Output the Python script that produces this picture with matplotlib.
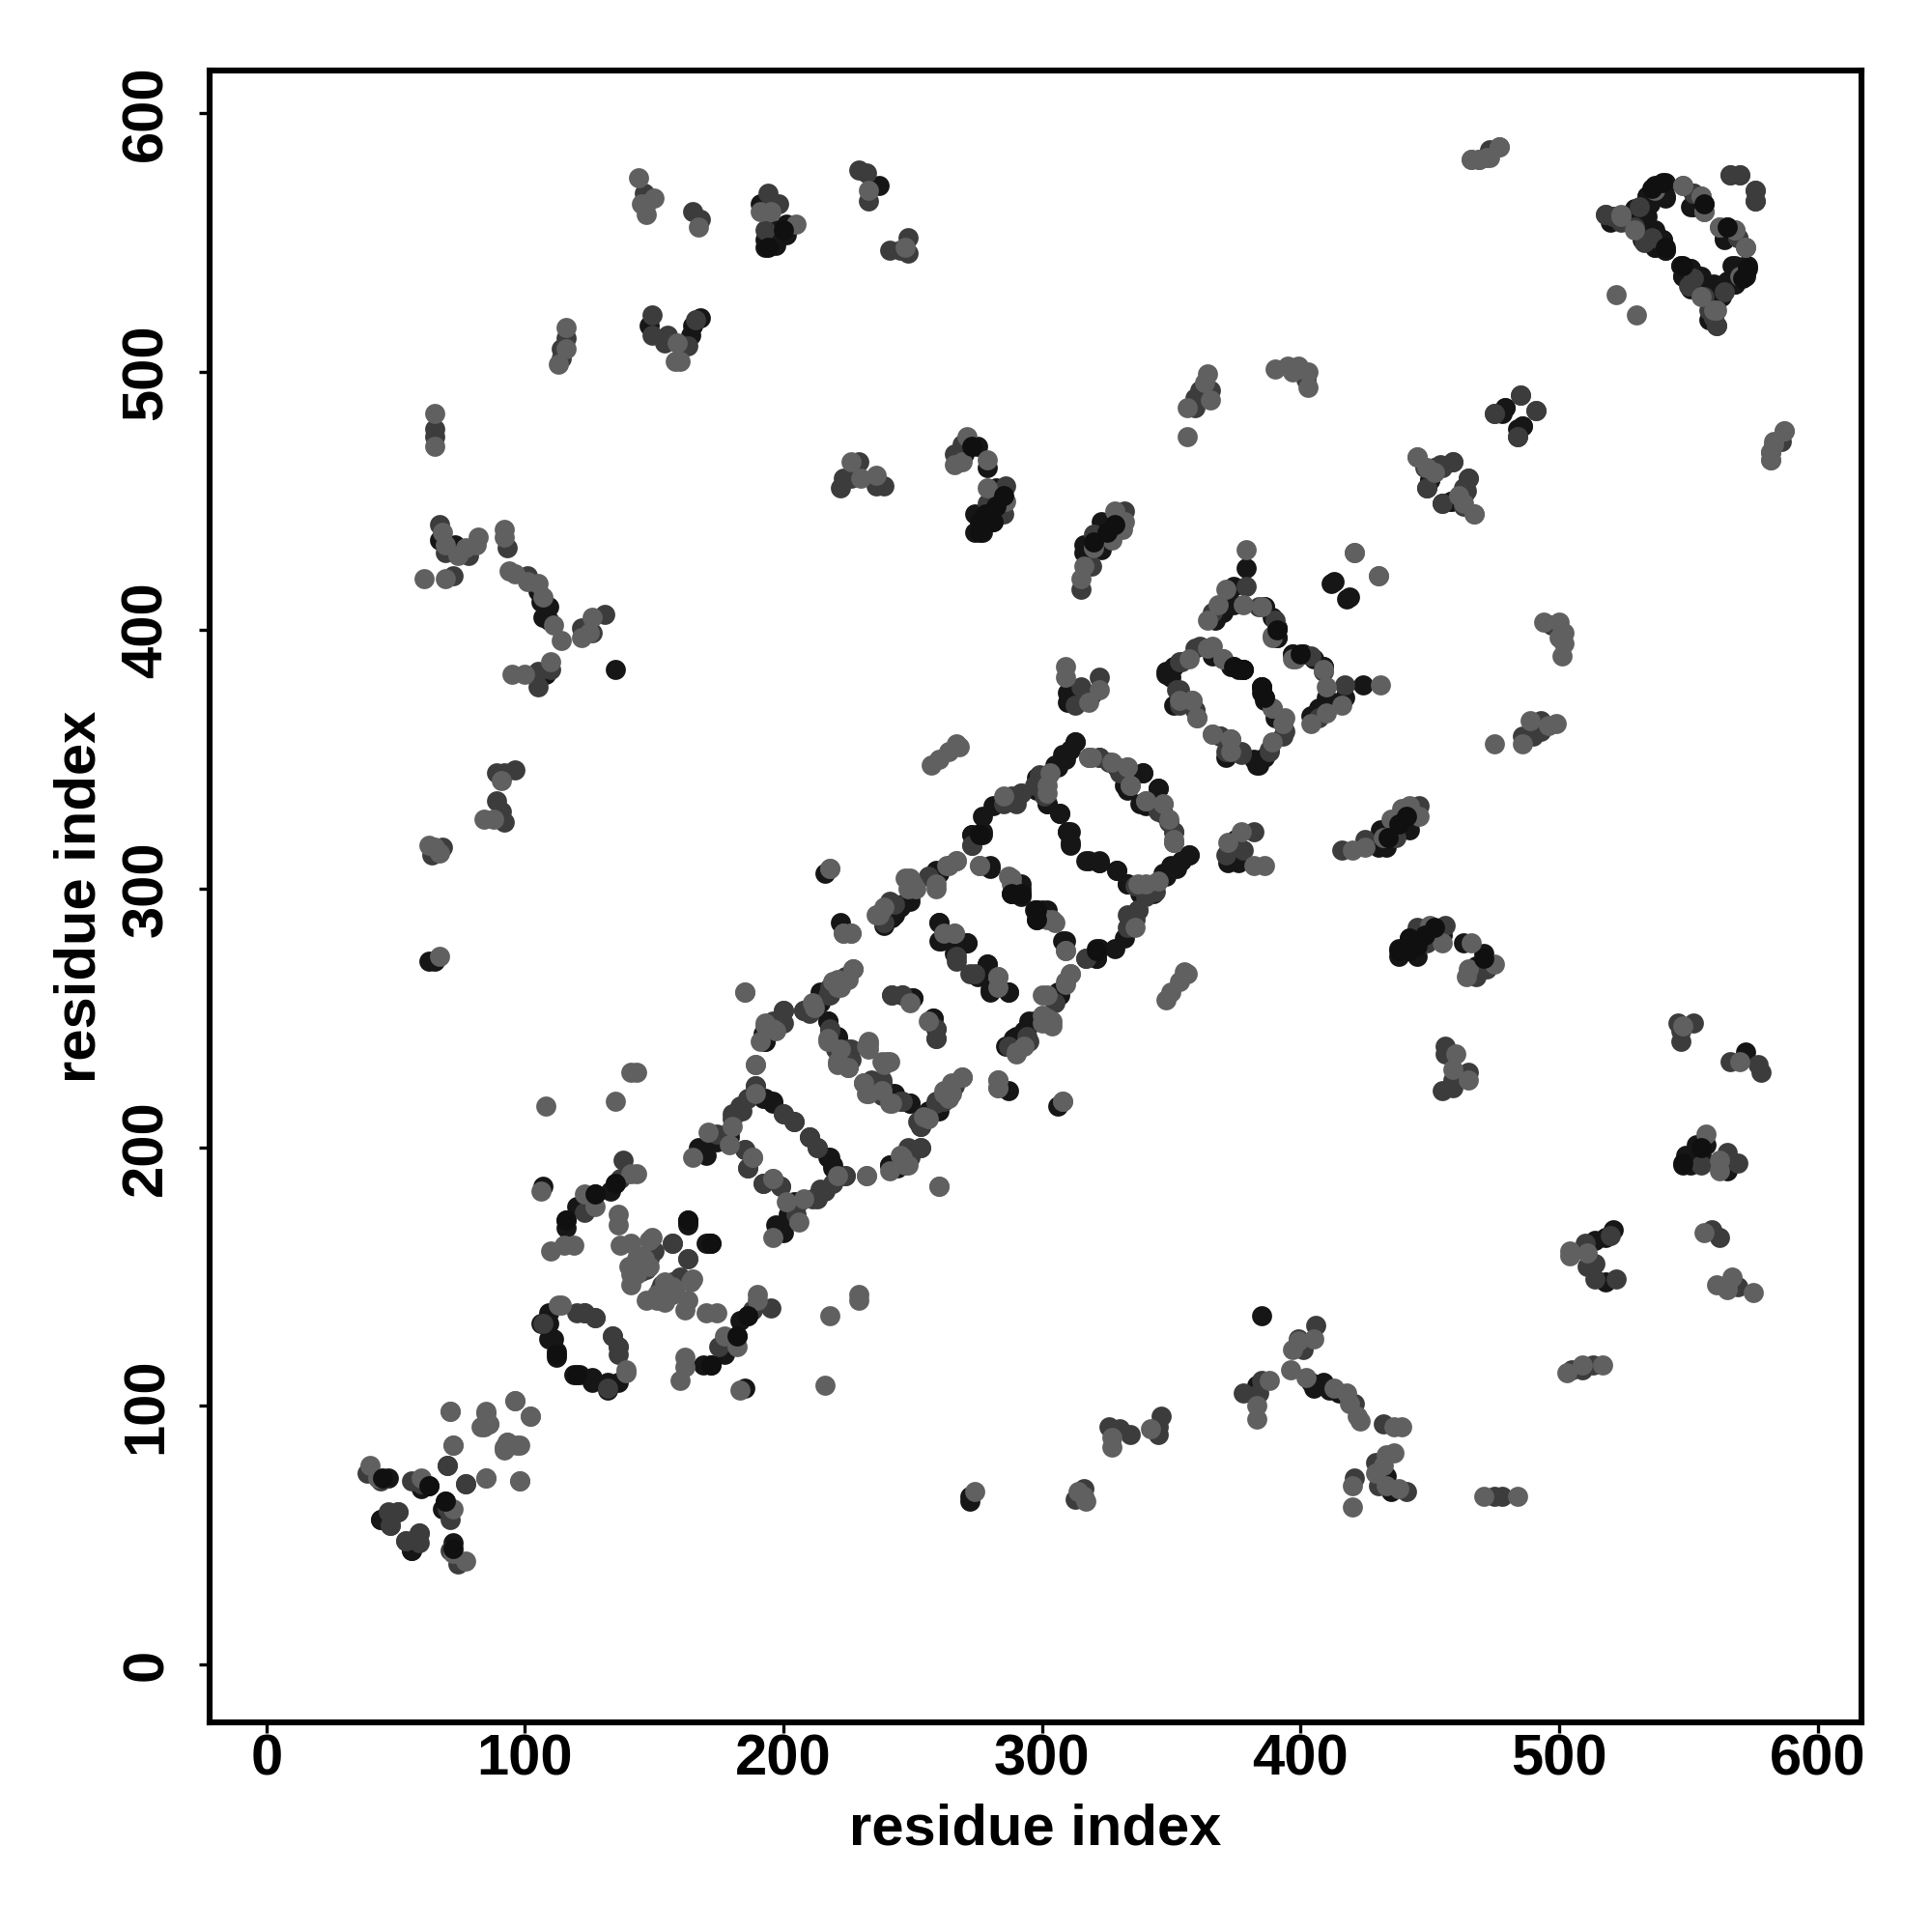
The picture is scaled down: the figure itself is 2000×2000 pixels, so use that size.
import numpy as np
import matplotlib
matplotlib.use("Agg")
import matplotlib.pyplot as plt

dark_contacts = [
    (47,72),(63,69),(60,68),(44,56),(47,57),(57,47),(56,44),(62,69),
    (109,136),(106,132),(109,132),(109,126),(111,126),(112,121),(112,119),(110,126),
    (107,185),(116,169),(116,172),(120,177),(127,182),(133,183),(135,186),
    (163,172),(163,170),(171,163),(135,385),
    (193,241),(193,244),(211,254),(213,256),(214,260),(217,249),(221,243),(242,221),(249,217),
    (253,208),(256,214),(241,193),(244,192),
    (192,219),(196,217),(210,204),(218,196),(219,193),(206,179),(167,200),(170,197),(174,202),(179,204),
    (216,306),(222,287),(259,307),(257,305),(249,297),(246,294),(242,289),(239,286),
    (273,321),(277,322),(277,328),(281,332),(298,338),(298,343),(302,333),(305,348),(308,352),(313,357),
    (307,329),(311,322),(311,317),(318,311),(322,310),(280,309),(292,300),(288,298),(292,297),
    (298,292),(302,292),(308,280),(321,277),(321,273),(306,260),(295,249),(293,245),(290,243),
    (260,287),(271,279),(267,276),(260,280),(279,271),(275,266),(280,261),(287,260),
    (246,259),(250,258),(258,250),
    (329,347),(339,345),(332,340),(345,339),(338,333),(357,313),(354,311),(350,309),(347,306),(333,302),(329,307),(322,310),
    (351,386),(348,383),(366,390),(374,386),(378,385),(351,371),(374,353),(382,350),(384,348),(386,373),(385,378),
    (379,424),(374,417),(374,410),(370,407),(367,404),(386,409),(391,401),(391,397),
    (397,391),(401,391),(405,389),(409,386),(413,419),(418,412),
    (319,375),(312,376),(372,310),(376,310),
    (272,471),(275,471),(270,468),(279,463),(282,455),(281,442),(274,445),(278,443),(274,438),(277,438),(282,445),
    (323,442),(327,439),(323,435),(316,433),(316,430),(323,431),
    (191,565),(201,557),(197,555),(201,553),(193,548),(197,549),(193,551),(237,572),
    (148,518),(164,514),(165,518),(168,521),(67,435),(73,433),(105,415),(106,411),(109,409),(107,405),(109,404),(108,383),
    (63,272),(65,272),
    (520,558),(529,563),(534,568),(537,572),(541,572),(541,567),(534,560),(532,551),(537,554),(540,551),(541,547),(537,548),
    (551,564),(556,565),(565,555),(564,552),(573,541),(568,541),(572,538),(568,534),(565,535),
    (547,541),(551,540),(548,537),(555,537),(559,533),(559,529),
    (479,486),(486,479),(484,478),(452,463),(450,458),(455,449),(458,450),
]
mid_contacts = [
    (39,74),(44,71),(56,71),(60,70),(70,77),(77,70),(51,59),(48,54),(59,51),(54,48),(59,47),
    (120,136),(123,136),(127,134),(134,127),(136,123),(132,107),(123,175),(137,188),(138,195),
    (148,157),(147,153),(145,152),(150,160),(157,163),(163,157),
    (200,253),(197,248),(200,248),(208,253),(218,262),(224,266),(217,259),(218,245),(226,238),(225,231),(226,234),
    (238,225),(238,220),(246,218),(252,210),(259,218),(269,227),(253,200),(249,199),(249,196),
    (189,224),(186,219),(183,216),(180,213),(174,205),(200,213),(204,210),(213,200),(224,189),(214,184),(211,180),(199,185),(192,186),(185,199),(186,192),
    (243,294),(288,336),(292,337),(285,333),(273,317),(317,273),(305,256),(295,241),(287,239),(267,272),(274,267),(242,259),(259,246),(259,242),
    (322,351),(326,349),(333,347),(345,330),(351,322),(343,302),(336,301),(344,299),(340,297),(337,292),(333,290),
    (354,388),(359,393),(353,377),(359,369),(369,359),(371,353),(377,352),(388,353),(394,361),(389,370),
    (379,417),(366,407),(390,404),(409,384),
    (322,382),(315,378),(313,371),
    (229,465),(223,459),(222,455),(226,459),(236,456),(239,456),
    (269,472),(266,468),(286,456),(285,445),(279,449),(332,446),(320,437),(319,425),(315,416),
    (365,493),(361,493),(359,490),(359,486),(146,569),(165,562),(168,559),(194,569),(198,565),(193,555),
    (229,578),(232,577),(233,566),(241,547),(245,547),(248,546),(248,552),
    (116,513),(114,509),(114,505),(149,522),(149,514),(155,514),(154,511),(163,510),(166,520),
    (65,478),(65,475),(67,441),(69,430),(78,429),(72,421),(93,432),(101,421),(122,401),(126,399),(131,406),(105,378),(110,385),(105,384),
    (89,334),(91,330),(92,326),(89,345),(92,345),(96,346),(68,316),(64,313),
    (518,561),(521,560),(529,556),(552,569),(566,576),(570,576),(576,570),(576,566),(569,552),(564,531),(552,536),(550,533),(560,521),(561,518),(558,524),
    (469,582),(473,585),(586,473),(402,497),
    (485,491),(475,484),(491,485),(484,475),(448,463),(459,465),(455,463),(449,455),(465,459),(464,454),
]
light_contacts = [
    (40,77),(43,72),(60,72),(85,72),(98,71),(71,98),(85,97),(86,93),(84,92),(72,85),(96,102),(102,96),(93,86),(92,83),(98,85),
    (114,139),(139,113),(106,183),(141,190),(143,190),(123,182),(127,177),(110,160),(115,162),(119,162),(136,174),(136,170),
    (137,162),(141,163),(149,165),(141,147),(144,158),(140,154),(141,151),(143,151),(148,154),(146,157),(143,157),(148,164),
    (108,216),(135,218),(141,229),(143,229),(189,232),(185,260),(193,248),(197,245),(191,241),
    (212,254),(221,265),(227,269),(222,262),(217,241),(222,238),(233,240),(233,238),(221,232),(239,232),(241,233),
    (231,225),(233,221),(242,217),(262,221),(265,225),(256,211),(264,219),(283,226),(283,223),(308,218),(260,185),(232,189),(246,196),(247,193),
    (180,208),(171,206),(165,196),(221,189),(201,179),(196,188),(188,196),
    (257,348),(260,350),(264,353),(268,355),(267,356),(218,308),(223,283),(226,283),(267,311),(263,309),(259,302),
    (250,302),(247,304),(237,290),(239,293),(251,300),(285,336),(303,345),(302,337),(319,351),(276,309),(288,304),(305,287),(302,288),(309,276),
    (311,267),(309,264),(300,259),(304,249),(300,248),(290,236),(262,283),(266,283),(283,266),(256,249),
    (318,351),(334,340),(340,334),(347,333),(349,327),(351,318),(340,302),
    (364,393),(370,389),(353,373),(358,373),(360,366),(366,360),(373,358),(389,357),(394,366),
    (379,431),(378,410),(371,416),(368,410),(364,404),(385,409),(389,398),(397,389),
    (322,377),(318,372),(309,386),(309,382),
    (421,430),(430,421),(226,465),(230,459),(236,460),
    (271,475),(266,464),(279,466),(269,465),(279,455),(286,450),(277,442),
    (328,446),(332,442),(331,439),(327,435),(320,432),(316,425),(315,420),
    (364,499),(363,496),(365,489),(356,486),(356,475),
    (144,575),(145,565),(150,567),(147,565),(147,561),(167,556),(191,562),(195,562),(205,557),
    (233,570),(247,548),
    (116,517),(116,509),(113,503),(159,511),(158,504),(160,504),
    (65,484),(65,471),(68,438),(69,433),(74,429),(77,432),(82,436),(81,433),(61,420),(69,420),
    (92,439),(92,436),(94,423),(96,422),(101,419),(105,418),(107,413),(111,402),(114,396),(126,405),(122,397),(125,399),
    (95,383),(100,383),(110,388),(84,327),(88,327),(91,342),(63,317),(67,314),(65,316),(67,274),
    (524,560),(537,570),(548,572),(555,568),(556,562),(562,556),(568,555),(572,548),(555,529),(561,524),(522,530),
    (466,582),(477,587),(473,583),(445,467),(461,452),(463,449),(467,445),
    (587,477),(583,472),(582,469),(582,466),
    (390,501),(395,502),(399,502),(403,500),(397,500),(403,494),
]
top_dark_contacts = [
    (45,72),(63,69),(116,172),(112,120),(127,182),(135,186),(163,172),(292,298),(288,298),(321,276),(391,400),
    (378,385),(374,386),(385,376),(281,442),(276,438),(273,471),(541,548),(556,565),(573,540),(536,571),(200,555),(194,548),
    (278,445),(282,448),(285,452),(276,442),(320,434),(325,438),(328,441),
]

tick_vals = [0, 100, 200, 300, 400, 500, 600]
axis_label = "residue index"

plt.rcParams['font.family'] = ['Liberation Sans', 'DejaVu Sans']
fig = plt.figure(figsize=(10, 10), dpi=200)
ax = fig.add_axes([217 / 2000, 1 - 1783 / 2000, 1710 / 2000, 1710 / 2000])


def show_contacts(pairs, color):
    pts = np.array(pairs, dtype=float)
    # every contact shows on both sides of the diagonal
    xs = np.concatenate([pts[:, 0], pts[:, 1]])
    ys = np.concatenate([pts[:, 1], pts[:, 0]])
    ax.scatter(xs, ys, s=56, color=color, linewidths=0, zorder=2)


show_contacts(dark_contacts, '#161616')
show_contacts(mid_contacts, '#3c3c3c')
show_contacts(light_contacts, '#606060')
show_contacts(top_dark_contacts, '#101010')

ax.set_xlim(-22, 617)
ax.set_ylim(-22.4, 616.5)
ax.set_xticks(tick_vals)
ax.set_yticks(tick_vals)
ax.tick_params(axis='x', length=3.8, width=1.2, labelsize=21.5, pad=0.5)
ax.tick_params(axis='y', length=3.8, width=1.2, labelsize=21.5, pad=9.6)
for lab in ax.get_xticklabels():
    lab.set_fontweight('bold')
for lab in ax.get_yticklabels():
    lab.set_fontweight('bold')
    lab.set_rotation(90)
    lab.set_va('center')
for side in ax.spines.values():
    side.set_linewidth(2.2)
ax.set_xlabel(axis_label, fontsize=21.5, fontweight='bold', labelpad=5.8)
ax.set_ylabel(axis_label, fontsize=21.5, fontweight='bold', labelpad=5)

fig.savefig("out.png", dpi=200)
